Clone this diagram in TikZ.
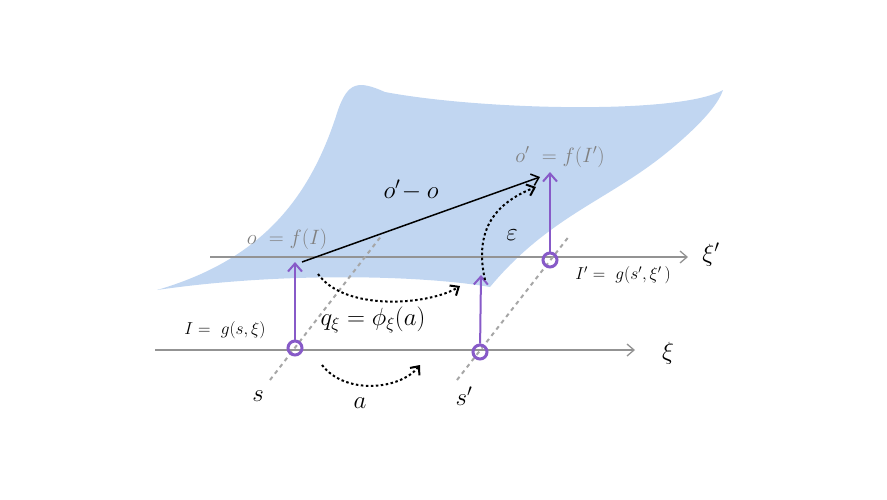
\documentclass[tikz,border=0pt]{standalone}
\usetikzlibrary{arrows.meta}
\definecolor{surf}{RGB}{193,214,241}
\definecolor{purp}{RGB}{135,90,200}
\begin{document}
\begin{tikzpicture}[x=1pt,y=-1pt,
 axis/.style={draw=gray!85,line width=1.3pt,-{Straight Barb[length=7pt,width=12pt]}},
 guide/.style={draw=gray!70,line width=2pt,dash pattern=on 4pt off 4pt},
 pt/.style={circle,draw=purp,line width=3pt,minimum size=14pt,inner sep=0pt},
 up/.style={draw=purp,line width=2pt,-{Straight Barb[length=8pt,width=14pt]}},
 hop/.style={draw=black,line width=2pt,dash pattern=on 2.5pt off 2.5pt,-{Straight Barb[length=7pt,width=12pt]}},
 lbl/.style={font=\fontsize{23}{27}\selectfont},
 slbl/.style={font=\fontsize{18}{22}\selectfont},
 glbl/.style={font=\fontsize{22}{26}\selectfont,text=gray}]
\useasboundingbox (0,0) rectangle (887,499);
\fill[surf]
 (157,290) .. controls (280,272) and (420,275) .. (490,287)
 .. controls (550,215) and (610,200) .. (670,150)
 .. controls (700,125) and (718,105) .. (723,90)
 .. controls (680,115) and (480,110) .. (385,92)
 .. controls (358,80) and (348,82) .. (338,110)
 .. controls (310,200) and (260,260) .. (157,290) -- cycle;
\coordinate (x1s) at (210,257); \coordinate (x1e) at (688,257);
\coordinate (x0s) at (155,350); \coordinate (x0e) at (635,350);
\draw[axis] (x1s) -- (x1e);
\draw[axis] (x0s) -- (x0e);
\node[lbl] (xip) at (711,255) {$\xi'$};
\node[lbl] (xi) at (668,353) {$\xi$};
\coordinate (sa) at (270,380); \coordinate (sb) at (382,235);
\coordinate (ta) at (457,380); \coordinate (tb) at (570,235);
\draw[guide] (sa) -- (sb);
\draw[guide] (ta) -- (tb);
\node[lbl] (s) at (258,396) {$s$};
\node[lbl] (sp) at (464,396) {$s'$};
\node[pt] (p1) at (295,348) {};
\node[pt] (p2) at (480,352) {};
\node[pt] (p3) at (550,260) {};
\coordinate (o) at (295,262); \coordinate (m) at (481,275); \coordinate (op) at (550,172);
\draw[up] (p1) -- (o);
\draw[up] (p2) -- (m);
\draw[up] (p3) -- (op);
\coordinate (os) at (302,262); \coordinate (oe) at (540,177);
\draw[line width=1.5pt,-{Straight Barb[length=7pt,width=12pt]}] (os) -- (oe);
\coordinate (h1a) at (318,274); \coordinate (h1b) at (460,286);
\draw[hop] (h1a) .. controls (345,312) and (430,305) .. (h1b);
\coordinate (h2a) at (485,280); \coordinate (h2b) at (536,187);
\draw[hop] (h2a) .. controls (475,235) and (490,205) .. (h2b);
\coordinate (h3a) at (322,365); \coordinate (h3b) at (420,365);
\draw[hop] (h3a) .. controls (345,395) and (400,390) .. (h3b);
\node[glbl] (ol) at (287,239) {$o\ = f(I)$};
\node[glbl] (opl) at (560,157) {$o'\ = f(I')$};
\node[lbl] (diff) at (411,190) {$o'\!-o$};
\node[lbl] (eps) at (512,235) {$\varepsilon$};
\node[slbl] (Il) at (225,330) {$I =\ g(s,\xi)$};
\node[slbl] (Ipl) at (623,275) {$I' =\ g(s',\xi'\,)$};
\node[font=\fontsize{26}{30}\selectfont] (q) at (373,320) {$q_\xi = \phi_\xi(a)$};
\node[lbl] (a) at (360,403) {$a$};
\end{tikzpicture}
\end{document}
